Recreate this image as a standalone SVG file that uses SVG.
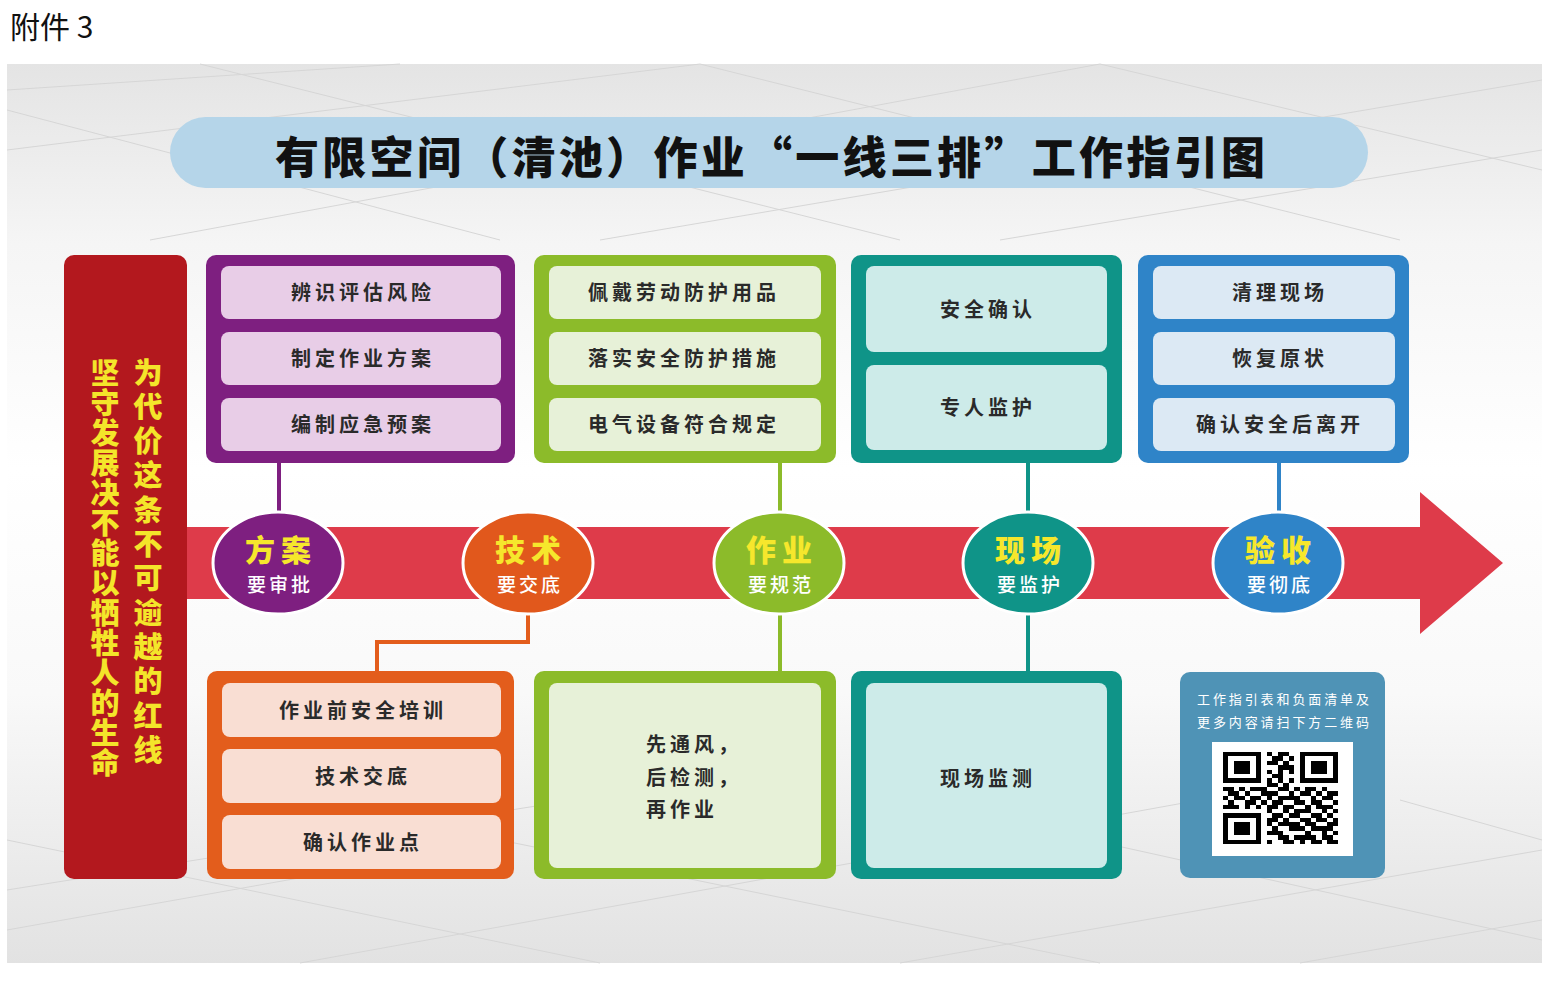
<svg xmlns="http://www.w3.org/2000/svg" width="1556" height="984" viewBox="0 0 1556 984">
<defs>
<linearGradient id="bg" x1="0" y1="0" x2="0" y2="1">
<stop offset="0" stop-color="#e4e4e4"/>
<stop offset="0.2" stop-color="#f5f5f5"/>
<stop offset="0.45" stop-color="#ffffff"/>
<stop offset="0.7" stop-color="#f9f9f9"/>
<stop offset="1" stop-color="#e2e2e2"/>
</linearGradient>
<style>
.cjk{font-family:"Noto Sans CJK SC","Noto Sans CJK TC",sans-serif}
.bt{font-family:"Noto Sans CJK SC",sans-serif;font-weight:700;font-size:20px;fill:#2a2a2a;letter-spacing:4px;text-anchor:middle}
.bl{font-family:"Noto Sans CJK SC",sans-serif;font-weight:700;font-size:20px;fill:#2a2a2a;letter-spacing:4px}
.cn{font-family:"Noto Sans CJK SC",sans-serif;text-anchor:middle}
.ct{font-family:"Noto Sans CJK SC",sans-serif;text-anchor:middle;font-weight:900;font-size:30px;fill:#f6e72c;letter-spacing:6px}
.cs{font-family:"Noto Sans CJK SC",sans-serif;text-anchor:middle;font-weight:500;font-size:19px;fill:#ffffff;letter-spacing:3px}
.vt{font-family:"Noto Sans CJK SC",sans-serif;font-weight:900;font-size:29px;fill:#f4e52a;writing-mode:vertical-rl}
.tile{stroke:#d6d6d6;stroke-width:1;fill:none}
.circ{stroke:#ffffff;stroke-width:3}
.con{fill:none;stroke-width:4}
</style>
</defs>

<rect x="0" y="0" width="1556" height="984" fill="#ffffff"/>
<text x="10" y="38" class="cjk" font-size="30" fill="#111">附件 3</text>

<g id="background">
<rect x="7" y="64" width="1535" height="899" fill="url(#bg)"/>
<g class="tile">
<path d="M7 90 L400 64 M7 150 L700 64 M150 240 L1100 64 M600 240 L1542 80 M1000 240 L1542 150 M7 110 L500 240 M200 64 L900 240 M700 64 L1400 240 M1100 64 L1542 170"/>
<path d="M7 930 L400 860 M7 890 L700 780 M300 963 L1200 800 M900 963 L1542 850 M1300 963 L1542 920 M7 840 L600 963 M500 840 L1100 963 M1000 820 L1542 940 M1400 800 L1542 840"/>
</g>
</g>

<g id="title">
<rect x="170" y="117" width="1198" height="71" rx="35.5" fill="#b5d5e9"/>
<text x="770" y="174" class="cjk" font-size="44" font-weight="900" fill="#111" text-anchor="middle" textLength="990" lengthAdjust="spacing">有限空间（清池）作业“一线三排”工作指引图</text>
</g>

<g id="arrow">
<path d="M187 527 H1420 V492 L1503 563 L1420 634 V599 H187 Z" fill="#de3b4a"/>
</g>

<g id="slogan">
<rect x="64" y="255" width="123" height="624" rx="10" fill="#b3181e"/>
<text x="105" y="358" class="vt" letter-spacing="1">坚守发展决不能以牺牲人的生命</text>
<text x="148" y="358" class="vt" letter-spacing="5.3">为代价这条不可逾越的红线</text>
</g>

<g id="connectors">
<path class="con" stroke="#7e1f80" d="M279 463 V512"/>
<path class="con" stroke="#e35d1c" d="M528 614 V642 H377 V671"/>
<path class="con" stroke="#8cbb2a" d="M780 463 V512 M780 614 V671"/>
<path class="con" stroke="#0f9488" d="M1028 463 V512 M1028 614 V671"/>
<path class="con" stroke="#2f84c8" d="M1279 463 V512"/>
</g>

<g id="box-plan">
<rect x="206" y="255" width="309" height="208" rx="10" fill="#7e1f80"/>
<rect x="221" y="266" width="280" height="53" rx="8" fill="#e8cde7"/>
<rect x="221" y="332" width="280" height="53" rx="8" fill="#e8cde7"/>
<rect x="221" y="398" width="280" height="53" rx="8" fill="#e8cde7"/>
<text x="363" y="300" class="bt">辨识评估风险</text>
<text x="363" y="366" class="bt">制定作业方案</text>
<text x="363" y="432" class="bt">编制应急预案</text>
</g>

<g id="box-work-top">
<rect x="534" y="255" width="302" height="208" rx="10" fill="#8cbb2a"/>
<rect x="549" y="266" width="272" height="53" rx="8" fill="#e7f1d8"/>
<rect x="549" y="332" width="272" height="53" rx="8" fill="#e7f1d8"/>
<rect x="549" y="398" width="272" height="53" rx="8" fill="#e7f1d8"/>
<text x="684" y="300" class="bt">佩戴劳动防护用品</text>
<text x="684" y="366" class="bt">落实安全防护措施</text>
<text x="684" y="432" class="bt">电气设备符合规定</text>
</g>

<g id="box-site-top">
<rect x="851" y="255" width="271" height="208" rx="10" fill="#0f9488"/>
<rect x="866" y="266" width="241" height="86" rx="8" fill="#cdebe9"/>
<rect x="866" y="365" width="241" height="85" rx="8" fill="#cdebe9"/>
<text x="988" y="317" class="bt">安全确认</text>
<text x="988" y="415" class="bt">专人监护</text>
</g>

<g id="box-accept">
<rect x="1138" y="255" width="271" height="208" rx="10" fill="#2f84c8"/>
<rect x="1153" y="266" width="242" height="53" rx="8" fill="#dce9f4"/>
<rect x="1153" y="332" width="242" height="53" rx="8" fill="#dce9f4"/>
<rect x="1153" y="398" width="242" height="53" rx="8" fill="#dce9f4"/>
<text x="1280" y="300" class="bt">清理现场</text>
<text x="1280" y="366" class="bt">恢复原状</text>
<text x="1280" y="432" class="bt">确认安全后离开</text>
</g>

<g id="node-plan">
<ellipse cx="278" cy="563" rx="65" ry="51" fill="#7e1f80" class="circ"/>
<text x="281" y="561" class="ct">方案</text>
<text x="280" y="592" class="cs">要审批</text>
</g>
<g id="node-tech">
<ellipse cx="528" cy="563" rx="65" ry="51" fill="#e1581c" class="circ"/>
<text x="531" y="561" class="ct">技术</text>
<text x="530" y="592" class="cs">要交底</text>
</g>
<g id="node-work">
<ellipse cx="779" cy="563" rx="65" ry="51" fill="#8cbb2a" class="circ"/>
<text x="782" y="561" class="ct">作业</text>
<text x="781" y="592" class="cs">要规范</text>
</g>
<g id="node-site">
<ellipse cx="1028" cy="563" rx="65" ry="51" fill="#0f9488" class="circ"/>
<text x="1031" y="561" class="ct">现场</text>
<text x="1030" y="592" class="cs">要监护</text>
</g>
<g id="node-accept">
<ellipse cx="1278" cy="563" rx="65" ry="51" fill="#2f84c8" class="circ"/>
<text x="1281" y="561" class="ct">验收</text>
<text x="1280" y="592" class="cs">要彻底</text>
</g>

<g id="box-tech">
<rect x="207" y="671" width="307" height="208" rx="10" fill="#e35d1c"/>
<rect x="222" y="683" width="279" height="54" rx="8" fill="#f9ded3"/>
<rect x="222" y="749" width="279" height="54" rx="8" fill="#f9ded3"/>
<rect x="222" y="815" width="279" height="54" rx="8" fill="#f9ded3"/>
<text x="363" y="718" class="bt">作业前安全培训</text>
<text x="363" y="784" class="bt">技术交底</text>
<text x="363" y="850" class="bt">确认作业点</text>
</g>

<g id="box-work-bottom">
<rect x="534" y="671" width="302" height="208" rx="10" fill="#8cbb2a"/>
<rect x="549" y="683" width="272" height="185" rx="8" fill="#e7f1d8"/>
<text class="bl"><tspan x="646" y="752">先通风，</tspan><tspan x="646" y="785">后检测，</tspan><tspan x="646" y="817">再作业</tspan></text>
</g>

<g id="box-site-bottom">
<rect x="851" y="671" width="271" height="208" rx="10" fill="#0f9488"/>
<rect x="866" y="683" width="241" height="185" rx="8" fill="#cdebe9"/>
<text x="988" y="786" class="bt">现场监测</text>
</g>

<g id="qr-box">
<rect x="1180" y="672" width="205" height="206" rx="10" fill="#4f93b6"/>
<text x="1197" y="704" class="cjk" font-size="13" fill="#ffffff" textLength="172" lengthAdjust="spacing">工作指引表和负面清单及</text>
<text x="1197" y="727" class="cjk" font-size="13" fill="#ffffff" textLength="172" lengthAdjust="spacing">更多内容请扫下方二维码</text>
<rect x="1212" y="742" width="141" height="114" fill="#ffffff"/>
<g transform="translate(1223 752) scale(5.476 4.381)" fill="#000" shape-rendering="crispEdges">
<path d="M0 0h7v1h-7zM8 0h1v1h-1zM10 0h2v1h-2zM14 0h7v1h-7z
M0 1h1v1h-1zM6 1h1v1h-1zM9 1h2v1h-2zM12 1h1v1h-1zM14 1h1v1h-1zM20 1h1v1h-1z
M0 2h1v1h-1zM2 2h3v1h-3zM6 2h1v1h-1zM8 2h2v1h-2zM11 2h1v1h-1zM14 2h1v1h-1zM16 2h3v1h-3zM20 2h1v1h-1z
M0 3h1v1h-1zM2 3h3v1h-3zM6 3h1v1h-1zM10 3h3v1h-3zM14 3h1v1h-1zM16 3h3v1h-3zM20 3h1v1h-1z
M0 4h1v1h-1zM2 4h3v1h-3zM6 4h1v1h-1zM8 4h1v1h-1zM10 4h1v1h-1zM12 4h1v1h-1zM14 4h1v1h-1zM16 4h3v1h-3zM20 4h1v1h-1z
M0 5h1v1h-1zM6 5h1v1h-1zM9 5h2v1h-2zM14 5h1v1h-1zM20 5h1v1h-1z
M0 6h7v1h-7zM8 6h1v1h-1zM10 6h1v1h-1zM12 6h1v1h-1zM14 6h7v1h-7z
M8 7h2v1h-2zM11 7h1v1h-1z
M0 8h2v1h-2zM3 8h1v1h-1zM5 8h3v1h-3zM10 8h2v1h-2zM13 8h1v1h-1zM15 8h2v1h-2zM18 8h1v1h-1z
M1 9h2v1h-2zM4 9h1v1h-1zM7 9h3v1h-3zM12 9h1v1h-1zM14 9h2v1h-2zM17 9h1v1h-1zM19 9h2v1h-2z
M0 10h1v1h-1zM2 10h2v1h-2zM5 10h2v1h-2zM8 10h1v1h-1zM10 10h4v1h-4zM16 10h1v1h-1zM18 10h2v1h-2z
M1 11h1v1h-1zM4 11h2v1h-2zM7 11h1v1h-1zM9 11h2v1h-2zM13 11h2v1h-2zM16 11h2v1h-2zM20 11h1v1h-1z
M0 12h3v1h-3zM4 12h1v1h-1zM6 12h1v1h-1zM8 12h2v1h-2zM11 12h2v1h-2zM15 12h1v1h-1zM17 12h3v1h-3z
M8 13h1v1h-1zM11 13h1v1h-1zM13 13h3v1h-3zM18 13h1v1h-1zM20 13h1v1h-1z
M0 14h7v1h-7zM9 14h2v1h-2zM12 14h2v1h-2zM16 14h2v1h-2zM19 14h1v1h-1z
M0 15h1v1h-1zM6 15h1v1h-1zM8 15h2v1h-2zM11 15h1v1h-1zM14 15h2v1h-2zM17 15h2v1h-2zM20 15h1v1h-1z
M0 16h1v1h-1zM2 16h3v1h-3zM6 16h1v1h-1zM8 16h1v1h-1zM10 16h4v1h-4zM15 16h2v1h-2zM19 16h2v1h-2z
M0 17h1v1h-1zM2 17h3v1h-3zM6 17h1v1h-1zM9 17h1v1h-1zM12 17h3v1h-3zM16 17h4v1h-4z
M0 18h1v1h-1zM2 18h3v1h-3zM6 18h1v1h-1zM8 18h3v1h-3zM15 18h1v1h-1zM18 18h1v1h-1zM20 18h1v1h-1z
M0 19h1v1h-1zM6 19h1v1h-1zM10 19h2v1h-2zM13 19h4v1h-4zM18 19h2v1h-2z
M0 20h7v1h-7zM8 20h1v1h-1zM11 20h2v1h-2zM14 20h1v1h-1zM16 20h2v1h-2zM19 20h2v1h-2z"/>
</g>
</g>
</svg>
